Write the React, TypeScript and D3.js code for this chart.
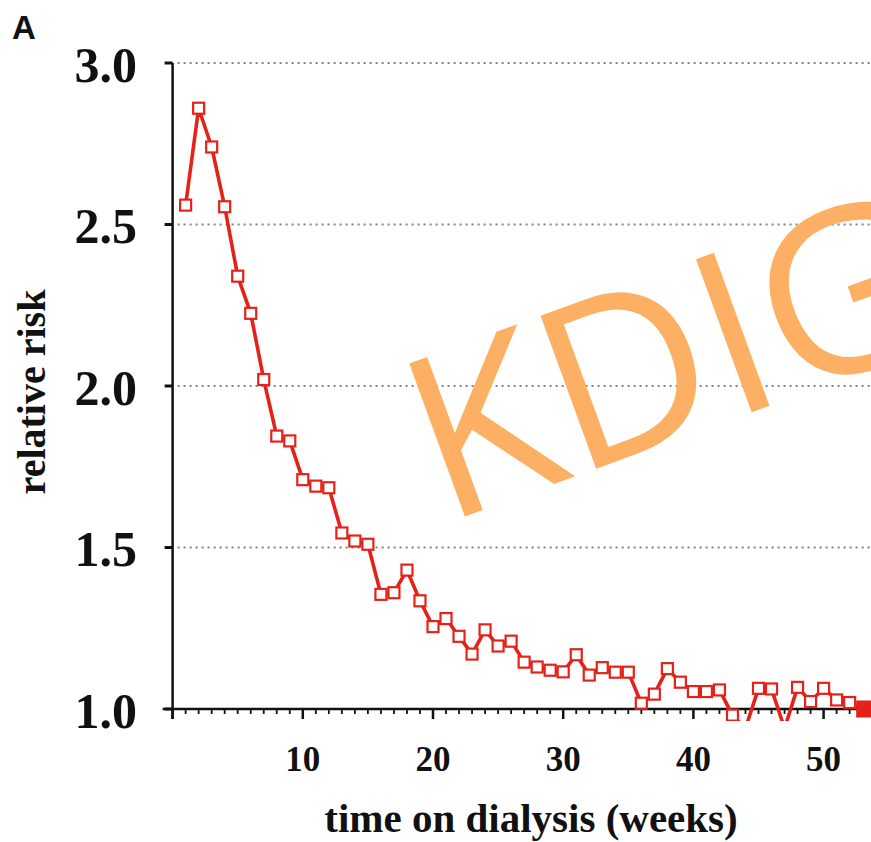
import * as d3 from 'd3';
import React from 'react';

// weekly relative risk, week 53 is the reference point (filled)
const weeks = d3.range(1, 54);
const riskValues = [
	2.56, 2.86, 2.74, 2.555, 2.34, 2.225, 2.02, 1.845, 1.83, 1.71,
	1.69, 1.685, 1.545, 1.52, 1.51, 1.355, 1.36, 1.43, 1.335, 1.255,
	1.28, 1.225, 1.17, 1.245, 1.195, 1.21, 1.145, 1.13, 1.12, 1.115,
	1.168, 1.105, 1.128, 1.114, 1.114, 1.018, 1.046, 1.125, 1.083, 1.054,
	1.054, 1.059, 0.981, 0.94, 1.064, 1.062, 0.94, 1.067, 1.023, 1.064,
	1.028, 1.02, 1.0,
];
const referenceWeek = 53;
const yTicks = [1.0, 1.5, 2.0, 2.5, 3.0];
const xTicks = [10, 20, 30, 40, 50];
const minorTicks = d3.range(0, 54);

const width = 871;
const height = 842;
const red = '#e5221a';
const serif = '"Liberation Serif", "Times New Roman", serif';

export default function App() {
	const x = d3.scaleLinear().domain([0, 50]).range([172.6, 823.6]);
	const y = d3.scaleLinear().domain([1, 3]).range([709, 63]);

	const data = weeks.map((w, i) => ({ w, v: riskValues[i] }));
	const line = d3
		.line<{ w: number; v: number }>()
		.x(d => x(d.w))
		.y(d => y(d.v));

	const plain = data.filter(d => d.w !== referenceWeek);
	const ref = data.find(d => d.w === referenceWeek)!;

	return (
		<svg
			width={width}
			height={height}
			style={{ position: 'absolute', left: 0, top: 0, background: '#fff' }}
		>
			<defs>
				<clipPath id="plotClip">
					<rect x={x(0)} y={0} width={width} height={721} />
				</clipPath>
			</defs>

			{/* dotted grid */}
			{yTicks
				.filter(t => t > 1)
				.map(t => (
					<line
						key={'g' + t}
						x1={x(0) + 5}
						x2={width}
						y1={y(t)}
						y2={y(t)}
						stroke="#7d8388"
						strokeWidth={2}
						strokeDasharray="2 4"
					/>
				))}

			{/* y axis */}
			<line x1={x(0)} x2={x(0)} y1={y(3)} y2={y(1) + 10} stroke="#111" strokeWidth={2.5} />
			{yTicks.map(t => (
				<g key={'y' + t}>
					<line x1={x(0) - 8} x2={x(0)} y1={y(t)} y2={y(t)} stroke="#111" strokeWidth={3} />
					<text
						x={137}
						y={y(t) + 18.5}
						textAnchor="end"
						fontFamily={serif}
						fontWeight="bold"
						fontSize={50}
						fill="#111"
					>
						{t.toFixed(1)}
					</text>
				</g>
			))}

			{/* x axis */}
			<line x1={x(0) - 10} x2={width} y1={y(1)} y2={y(1)} stroke="#111" strokeWidth={2.5} />
			{minorTicks.map(t => (
				<line
					key={'m' + t}
					x1={x(t)}
					x2={x(t)}
					y1={y(1)}
					y2={y(1) + (t % 10 === 0 ? 10 : 5)}
					stroke="#111"
					strokeWidth={t % 10 === 0 ? 2.5 : 1.8}
				/>
			))}
			{xTicks.map(t => (
				<text
					key={'x' + t}
					x={x(t)}
					y={771}
					textAnchor="middle"
					fontFamily={serif}
					fontWeight="bold"
					fontSize={35}
					fill="#111"
				>
					{t}
				</text>
			))}

			{/* series */}
			<g clipPath="url(#plotClip)">
				<path d={line(data) ?? ''} fill="none" stroke={red} strokeWidth={3.6} strokeLinejoin="round" />
				{plain.map(d => (
					<rect
						key={'p' + d.w}
						x={x(d.w) - 5.5}
						y={y(d.v) - 5.5}
						width={11}
						height={11}
						fill="#fff"
						stroke={red}
						strokeWidth={2.2}
					/>
				))}
				<rect x={x(ref.w) - 6.5} y={y(ref.v) - 8.5} width={17} height={17} fill={red} />
			</g>

			{/* watermark */}
			<text
				transform="translate(444,524) rotate(-20)"
				fontFamily='"Open Sans", sans-serif'
				fontSize={228}
				fill="#fdb063"
			>
				KDIG
			</text>

			{/* titles */}
			<text
				transform="translate(45,392) rotate(-90)"
				textAnchor="middle"
				fontFamily={serif}
				fontWeight="bold"
				fontSize={40}
				fill="#111"
			>
				relative risk
			</text>
			<text
				x={531}
				y={832}
				textAnchor="middle"
				fontFamily={serif}
				fontWeight="bold"
				fontSize={41}
				fill="#111"
			>
				time on dialysis (weeks)
			</text>
			<text x={12} y={39} fontFamily='"Liberation Sans", Arial, sans-serif' fontWeight="bold" fontSize={33} fill="#111">
				A
			</text>
		</svg>
	);
}
